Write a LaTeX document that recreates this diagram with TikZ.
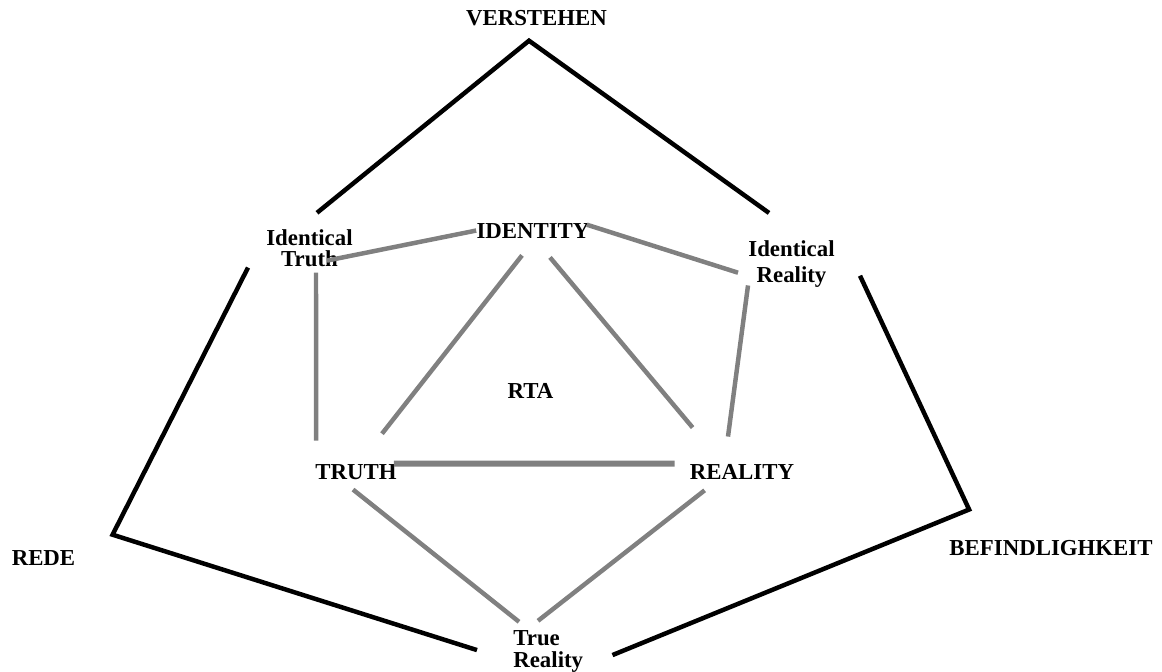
\documentclass[tikz,border=0pt]{standalone}
\usepackage{fontspec}
\setmainfont{Liberation Serif}

\begin{document}
\begin{tikzpicture}[x=0.02cm, y=-0.02cm,
  lbl/.style={inner sep=0pt, font=\fontsize{13}{12.5}\selectfont\bfseries},
  greyline/.style={draw=gray, line width=2.55pt},
  blackline/.style={draw=black, line width=2.55pt}]
  \useasboundingbox (0,0) rectangle (1162,672);
  % Outer labels
  \node[lbl, anchor=base] (verstehen) at (536.5,26) {VERSTEHEN};
  \node[lbl, anchor=base] (rede) at (43.5,565) {REDE};
  \node[lbl, anchor=base] (befind) at (1051,555) {BEFINDLIGHKEIT};
  % Inner labels
  \node[lbl, anchor=base] (identity) at (533,238) {IDENTITY};
  \node[lbl, anchor=base] (rta) at (530.5,398) {RTA};
  \node[lbl, anchor=base] (truth) at (356,479) {TRUTH};
  \node[lbl, anchor=base] (reality) at (742,479) {REALITY};
  \node[lbl, align=center] (idtruth) at (309.5,248.2) {Identical\\Truth};
  \node[lbl, align=center] (idreality) at (791.5,263.7) {Identical\\[2.3pt]Reality};
  \node[lbl, align=left, anchor=north west] (truereality) at (513,629.8) {True\\Reality};
  % Outer frame
  \draw[blackline] ([shift={(7.5,-16)}]idtruth.north) -- ([shift={(-7.5,14)}]verstehen.south)
    -- ([shift={(-22.5,-27)}]idreality.north);
  \draw[blackline] ([shift={(-18,0)}]idtruth.south west) -- ([shift={(37,-15)}]rede.north east)
    -- ([shift={(-36,-1)}]truereality.west);
  \draw[blackline] ([shift={(25,12)}]idreality.east) -- ([shift={(20,-30)}]befind.north west)
    -- ([shift={(29,4)}]truereality.east);
  % Inner connections
  \draw[greyline] ([shift={(-26,-7)}]idtruth.south east) -- (identity.west);
  \draw[greyline] ([shift={(-3,2)}]identity.north east) -- ([shift={(-10,9)}]idreality.west);
  \draw[greyline] ([shift={(6.5,5)}]idtruth.south) -- ([shift={(1,-23)}]truth.north west);
  \draw[greyline] ([shift={(0,-2)}]idreality.south west) -- ([shift={(-14,-27)}]reality.north);
  \draw[greyline] ([shift={(-11,17)}]identity.south) -- ([shift={(26,-30)}]truth.north);
  \draw[greyline] ([shift={(17,19)}]identity.south) -- ([shift={(3,-36)}]reality.north west);
  \draw[greyline, line width=3.4pt] ([shift={(-3,0)}]truth.north east) -- ([shift={(-15,0)}]reality.north west);
  \draw[greyline] ([shift={(-3,10)}]truth.south) -- ([shift={(6,-8)}]truereality.north west);
  \draw[greyline] ([shift={(15,11)}]reality.south west) -- ([shift={(25,-9)}]truereality.north west);
\end{tikzpicture}
\end{document}
